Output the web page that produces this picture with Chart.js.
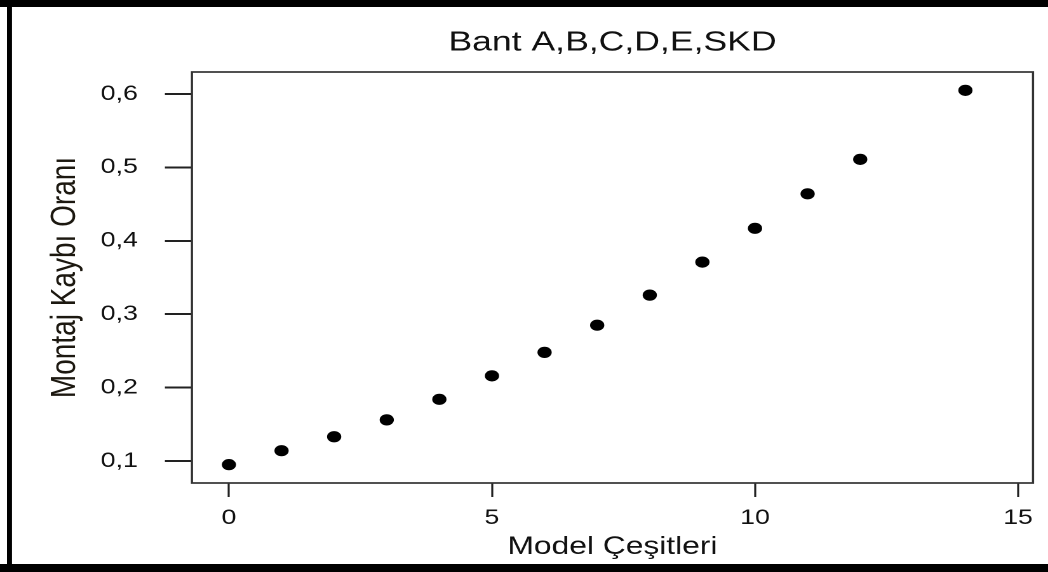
<!DOCTYPE html>
<html>
<head>
<meta charset="utf-8">
<title>Bant A,B,C,D,E,SKD</title>
<script src="https://cdn.jsdelivr.net/npm/chart.js@4/dist/chart.umd.min.js"></script>
<style>
  html, body { margin: 0; padding: 0; background: #fff; overflow: hidden; }
  /* the plot is laid out narrow and widened horizontally, as in the original export */
  #wrap { position: absolute; left: 0; top: 0; width: 825px; height: 572px;
          transform: scaleX(1.27030); transform-origin: 0 0; }
</style>
</head>
<body>
<div id="wrap"><canvas id="c" width="825" height="572"></canvas></div>
<script>
// number of model variants on the line
const modelCounts = [0, 1, 2, 3, 4, 5, 6, 7, 8, 9, 10, 11, 12, 14];
// assembly loss ratio for each variant count
const lossRates = [0.095, 0.114, 0.133, 0.156, 0.184, 0.216, 0.248, 0.285, 0.326, 0.371, 0.417, 0.464, 0.511, 0.605];

const xTickValues = [0, 5, 10, 15];
const xTickLabels = ['0', '5', '10', '15'];
const yTickValues = [0.1, 0.2, 0.3, 0.4, 0.5, 0.6];
const yTickLabels = ['0,1', '0,2', '0,3', '0,4', '0,5', '0,6'];

const chartTitle = 'Bant A,B,C,D,E,SKD';
const xAxisTitle = 'Model Çeşitleri';
const yAxisTitle = 'Montaj Kaybı Oranı';

const FONT = "'Liberation Sans', Arial, Helvetica, sans-serif";
const INK = '#111';

function labelFor(values, labels, v) {
  const i = values.findIndex(t => Math.abs(t - v) < 1e-9);
  return i >= 0 ? labels[i] : '';
}

// white page, plot frame and the heavy page border
const framePlugin = {
  id: 'framePlugin',
  beforeDraw(chart) {
    const ctx = chart.ctx;
    ctx.save();
    ctx.fillStyle = '#fff';
    ctx.fillRect(0, 0, chart.width, chart.height);
    ctx.restore();
  },
  afterDraw(chart) {
    const { ctx, chartArea: a } = chart;
    ctx.save();
    ctx.strokeStyle = '#333';
    ctx.lineWidth = 1.7;
    ctx.strokeRect(a.left, a.top, a.right - a.left, a.bottom - a.top);
    ctx.fillStyle = '#000';
    ctx.fillRect(0, 0, chart.width, 7);
    ctx.fillRect(0, 564, chart.width, 8);
    ctx.fillRect(5.5, 0, 3.95, chart.height);
    ctx.restore();
  }
};

new Chart(document.getElementById('c'), {
  type: 'scatter',
  data: {
    datasets: [{
      data: modelCounts.map((m, i) => ({ x: m, y: lossRates[i] })),
      pointStyle: 'circle',
      pointRadius: 5.6,
      pointHoverRadius: 5.6,
      backgroundColor: '#000',
      borderColor: '#000',
      borderWidth: 0
    }]
  },
  options: {
    responsive: false,
    animation: false,
    devicePixelRatio: 2,
    layout: { padding: { left: 0, right: 11.8, top: 0, bottom: 0 } },
    plugins: {
      legend: { display: false },
      tooltip: { enabled: false },
      title: {
        display: true,
        text: chartTitle,
        fullSize: false,
        color: INK,
        font: { family: FONT, size: 28, weight: 'normal', lineHeight: 1.2 },
        padding: { top: 26, bottom: 12.4 }
      }
    },
    scales: {
      x: {
        type: 'linear',
        min: -0.703,
        max: 15.285,
        afterBuildTicks: s => { s.ticks = xTickValues.map(v => ({ value: v })); },
        afterFit: s => { s.height = 89; },
        border: { display: false },
        grid: {
          display: true,
          drawOnChartArea: false,
          drawTicks: true,
          tickLength: 14,
          tickColor: '#222',
          tickWidth: 1.6
        },
        ticks: {
          autoSkip: false,
          maxRotation: 0,
          padding: 8.4,
          color: INK,
          font: { family: FONT, size: 21, lineHeight: 1.2 },
          callback: v => labelFor(xTickValues, xTickLabels, v)
        },
        title: {
          display: true,
          text: xAxisTitle,
          color: INK,
          font: { family: FONT, size: 25, lineHeight: 1.2 },
          padding: { top: 0, bottom: 10 }
        }
      },
      y: {
        type: 'linear',
        min: 0.070,
        max: 0.630,
        afterBuildTicks: s => { s.ticks = yTickValues.map(v => ({ value: v })); },
        afterFit: s => { s.width = 151.1; },
        border: { display: false },
        grid: {
          display: true,
          drawOnChartArea: false,
          drawTicks: true,
          tickLength: 21.3,
          tickColor: '#222',
          tickWidth: 2
        },
        ticks: {
          padding: 21.3,
          color: INK,
          font: { family: FONT, size: 21, lineHeight: 1.2 },
          callback: v => labelFor(yTickValues, yTickLabels, v)
        },
        title: {
          display: true,
          text: yAxisTitle,
          color: '#1c1810',
          font: { family: FONT, size: 28, lineHeight: 1.2 },
          padding: { top: 34.4, bottom: 0 }
        }
      }
    }
  },
  plugins: [framePlugin]
});
</script>
</body>
</html>
